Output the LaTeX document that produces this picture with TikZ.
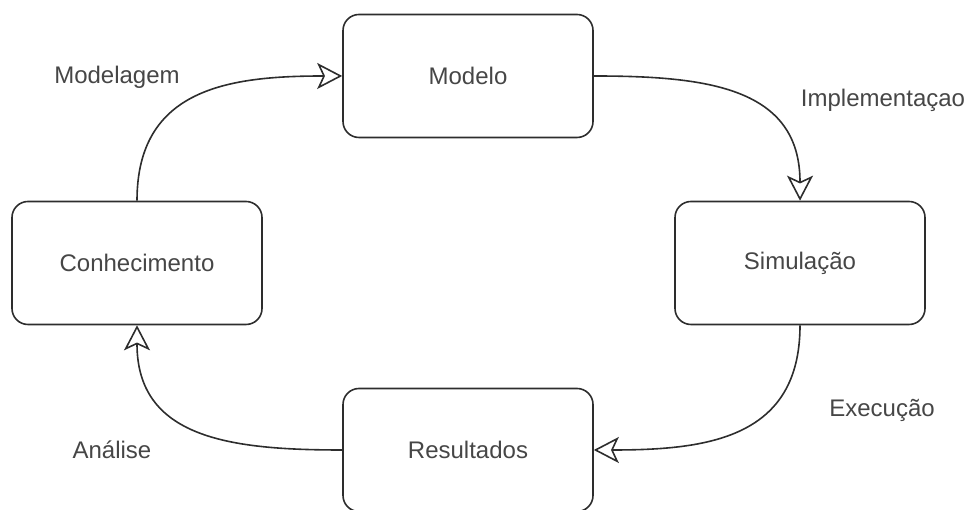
\documentclass[tikz,border=0pt]{standalone}
\usepackage{fontspec}
\setmainfont{Liberation Sans}
\usepackage{xcolor}
\definecolor{cyline}{RGB}{45,45,45}
\definecolor{cytext}{RGB}{70,70,70}
\usetikzlibrary{arrows.meta,positioning}

\begin{document}
\begin{tikzpicture}[x=1pt,y=1pt,
  stage/.style={draw=cyline,line width=1.6pt,rounded corners=16pt,minimum width=250pt,minimum height=123pt,
    inner sep=0pt,text=cytext,font=\fontsize{24}{28}\selectfont},
  phase/.style={text=cytext,font=\fontsize{24}{28}\selectfont},
  flow/.style={draw=cyline,line width=1.6pt,looseness=1.2,
    -{Stealth[open,length=25pt,width=26pt,inset=6pt]}}]
  \useasboundingbox (0,0) rectangle (971,510);
  \node[stage] (mod) at (468,434) {Modelo};
  \node[stage] (sim) at (800,247) {Simulação};
  \node[stage] (res) at (468,60) {Resultados};
  \node[stage] (con) at (137,247) {Conhecimento};
  \node[phase] (lmod) at (117,433) {Modelagem};
  \node[phase] (limp) at (883,410) {Implementaçao};
  \node[phase] (lexe) at (882,100) {Execução};
  \node[phase] (lana) at (112,60) {Análise};
  \draw[flow] (con.north) to[out=90,in=180] (mod.west);
  \draw[flow] (mod.east) to[out=0,in=90] (sim.north);
  \draw[flow] (sim.south) to[out=-90,in=0] (res.east);
  \draw[flow] (res.west) to[out=180,in=-90] (con.south);
\end{tikzpicture}
\end{document}
